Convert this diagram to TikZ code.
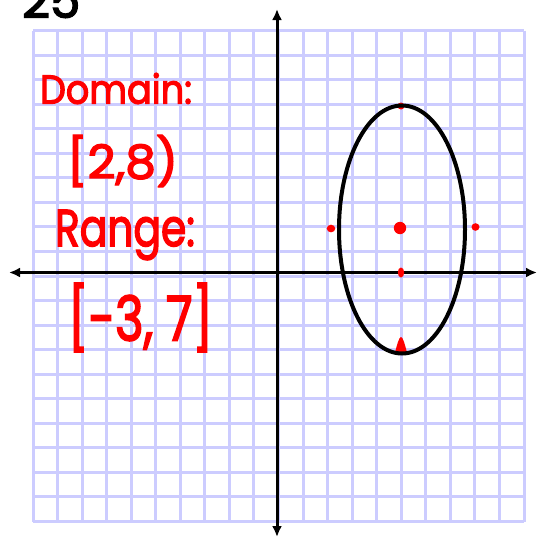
\documentclass[tikz,border=0pt]{standalone}
\usepackage{fontspec}
\setmainfont{Poppins}
\newfontfamily\handfont{Poppins}[FakeBold=3]
\usetikzlibrary{arrows.meta}
\definecolor{gridc}{RGB}{204,204,255}
\definecolor{inkred}{RGB}{255,0,0}
\tikzset{
  gridline/.style={draw=gridc, line width=3pt},
  axisline/.style={draw=black, line width=3pt, {Latex[length=11pt,width=10pt]}-{Latex[length=11pt,width=10pt]}},
  curve/.style={draw=black, line width=4pt},
  dotmark/.style={fill=inkred, draw=none},
  note/.style={inner sep=0pt, outer sep=0pt, text=inkred, anchor=north west, font=\handfont},
}
\begin{document}
\begin{tikzpicture}[x=1pt,y=-1pt]
\useasboundingbox (0,0) rectangle (536,538);
\clip (0,0) rectangle (536,538);
\fill[white] (0,0) rectangle (536,538);
% grid
\foreach \i in {0,...,20}{
  \draw[gridline] ({33+\i*24.55},30.5) -- ({33+\i*24.55},521.5);
  \draw[gridline] (33,{30.5+\i*24.55}) -- (524,{30.5+\i*24.55});
}
% axes
\coordinate (ytop) at (277,9);
\coordinate (ybot) at (277,537);
\coordinate (xleft) at (9,272.5);
\coordinate (xright) at (537,272.5);
\draw[axisline] (ybot) -- (ytop);
\draw[axisline] (xleft) -- (xright);
% red marks under the curve
\fill[dotmark] (401,106) circle (3.5);
\fill[dotmark] (395,352.5) .. controls (397,345) and (399,337) .. (401,337) .. controls (403,337) and (405,345) .. (407,352.5) -- cycle;
% ellipse
\draw[curve] (402,229.5) ellipse [x radius=63, y radius=124];
% red marks
\fill[dotmark] (400,228) circle (6.2);
\fill[dotmark] (331,228.5) ellipse [x radius=4.3, y radius=3.8];
\fill[dotmark] (475.5,227) ellipse [x radius=4, y radius=3.8];
\fill[dotmark] (401,272.5) ellipse [x radius=3.2, y radius=5];
% handwritten notes
\node[note] (dom) at (40,73) {\resizebox*{152pt}{31pt}{Domain:}};
\node[note] (domv) at (67,135) {\resizebox*{111pt}{52pt}{[2,8)}};
\node[note] (ran) at (55,210) {\resizebox*{140pt}{50pt}{Range:}};
\node[note] (ranv) at (68,283) {\resizebox*{145pt}{69pt}{[-3, 7]}};
\node[inner sep=0pt, anchor=south west, font=\handfont] (num) at (22,18) {\resizebox*{58pt}{36pt}{25}};
\end{tikzpicture}
\end{document}
